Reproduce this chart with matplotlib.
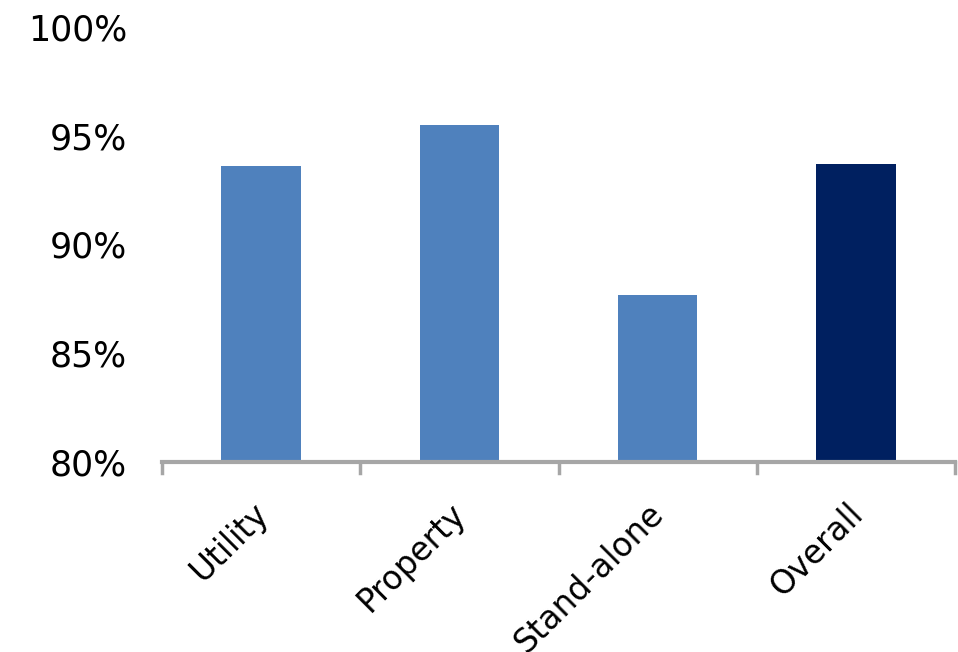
import matplotlib.pyplot as plt
from matplotlib.transforms import ScaledTranslation

# categorie e valori (percentuali)
categorie = ['Utility', 'Property', 'Stand-alone', 'Overall']
valori = [93.6, 95.5, 87.7, 93.7]
colori = ['#4F81BD', '#4F81BD', '#4F81BD', '#002060']
tick_y = [80, 85, 90, 95, 100]
etichette_y = ['80%', '85%', '90%', '95%', '100%']

fig = plt.figure(figsize=(9.58, 6.52), dpi=100)
ax = fig.add_axes([0.169, 0.291, 0.828, 0.668])

ax.bar(range(len(categorie)), valori, width=0.4, color=colori, bottom=0)
ax.set_xlim(-0.5, len(categorie) - 0.5)
ax.set_ylim(80, 100)

ax.set_yticks(tick_y)
ax.set_yticklabels(etichette_y, fontsize=25, family='DejaVu Sans')
ax.tick_params(axis='y', length=0, pad=25)

# etichette ruotate di 45° sotto ogni barra
ax.set_xticks(range(len(categorie)))
ax.set_xticklabels(categorie, rotation=45, ha='right', rotation_mode='anchor',
                   fontsize=23.5, family='DejaVu Sans')
ax.tick_params(axis='x', length=0, pad=25)
spostamento = ScaledTranslation(-10 / 100, 0, fig.dpi_scale_trans)
for etichetta in ax.get_xticklabels():
    etichetta.set_transform(etichetta.get_transform() + spostamento)

# tacche di separazione tra le categorie
for x in [-0.5, 0.5, 1.5, 2.5, 3.5]:
    ax.plot([x, x], [0, -0.025], transform=ax.get_xaxis_transform(),
            color='#A6A6A6', lw=2.5, clip_on=False)

for lato in ['left', 'right', 'top']:
    ax.spines[lato].set_visible(False)
ax.spines['bottom'].set_color('#A6A6A6')
ax.spines['bottom'].set_linewidth(3)

fig.savefig('out.png', dpi=100)
